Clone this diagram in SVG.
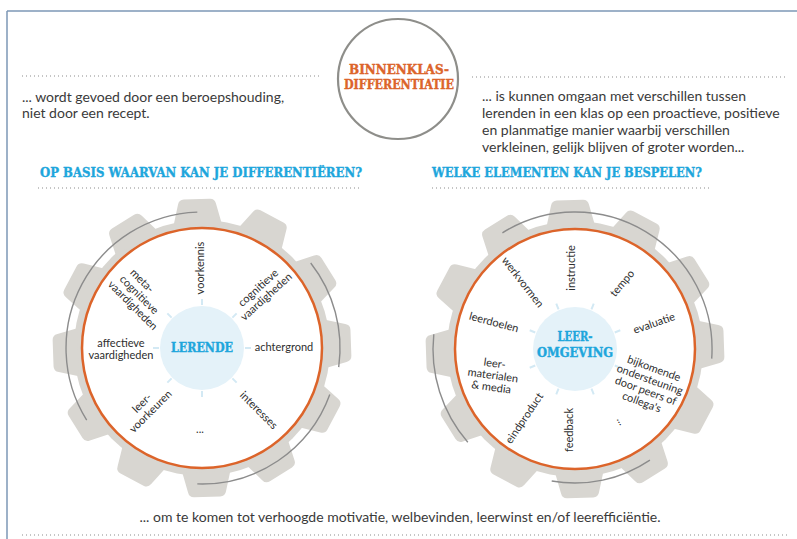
<svg xmlns="http://www.w3.org/2000/svg" xmlns:xlink="http://www.w3.org/1999/xlink" width="797" height="539" viewBox="0 0 797 539">
<style>
.frame{stroke:#7d97b6;stroke-width:1.5;fill:none}
.dot{stroke:#b3b3b3;stroke-width:1.4;stroke-dasharray:1 3;fill:none}
.body{font-family:Lato,"Open Sans",sans-serif;font-size:14px;fill:#3a3a3a}
.slab{font-family:"DejaVu Serif",serif;font-weight:bold;stroke-width:0.4px}
.head{font-size:13px;fill:#1ea6dc;stroke:#1ea6dc}
.title{font-size:12px;fill:#dc642a;stroke:#dc642a}
.ctr{font-size:12px;fill:#1ea6dc;stroke:#1ea6dc;text-anchor:middle}
.lb{font-family:Lato,"Open Sans",sans-serif;font-size:11px;fill:#2e2e2e;text-anchor:middle}
.gearfill{fill:#d8d6d1}
.ring{fill:#fff;stroke:#dc642a;stroke-width:2.5}
.hub{fill:#e4f2f9}
.tick{stroke:#d3e9f4;stroke-width:2}
.arc{fill:none;stroke:#8c8c8c;stroke-width:1.4}
</style>
<defs>
<path id="tooth" d="M-24,-124 L-19,-144 Q-18,-149 -13,-149 L13,-149 Q18,-149 19,-144 L24,-124 Z"/>
<g id="gear" class="gearfill">
<circle r="128"/>
<use xlink:href="#tooth" transform="rotate(-2)"/>
<use xlink:href="#tooth" transform="rotate(28)"/>
<use xlink:href="#tooth" transform="rotate(58)"/>
<use xlink:href="#tooth" transform="rotate(88)"/>
<use xlink:href="#tooth" transform="rotate(118)"/>
<use xlink:href="#tooth" transform="rotate(148)"/>
<use xlink:href="#tooth" transform="rotate(178)"/>
<use xlink:href="#tooth" transform="rotate(208)"/>
<use xlink:href="#tooth" transform="rotate(238)"/>
<use xlink:href="#tooth" transform="rotate(268)"/>
<use xlink:href="#tooth" transform="rotate(298)"/>
<use xlink:href="#tooth" transform="rotate(328)"/>
</g>
<g id="ticks8" class="tick">
<line x1="0" y1="-43" x2="0" y2="-49"/>
<line x1="0" y1="-43" x2="0" y2="-49" transform="rotate(45)"/>
<line x1="0" y1="-43" x2="0" y2="-49" transform="rotate(90)"/>
<line x1="0" y1="-43" x2="0" y2="-49" transform="rotate(135)"/>
<line x1="0" y1="-43" x2="0" y2="-49" transform="rotate(180)"/>
<line x1="0" y1="-43" x2="0" y2="-49" transform="rotate(225)"/>
<line x1="0" y1="-43" x2="0" y2="-49" transform="rotate(270)"/>
<line x1="0" y1="-43" x2="0" y2="-49" transform="rotate(315)"/>
</g>
</defs>

<g id="frame">
<line class="frame" x1="7" y1="11" x2="797" y2="11"/>
<line class="frame" x1="7" y1="11" x2="7" y2="539"/>
</g>

<g id="title">
<circle cx="398" cy="79" r="60" fill="#fff" stroke="#8e8e8a" stroke-width="2.2"/>
<text class="slab title" x="399" y="74" text-anchor="middle" textLength="100" lengthAdjust="spacingAndGlyphs">BINNENKLAS-</text>
<text class="slab title" x="399" y="89" text-anchor="middle" textLength="110" lengthAdjust="spacingAndGlyphs">DIFFERENTIATIE</text>
</g>

<g id="intro-left">
<line class="dot" x1="22" y1="76" x2="322" y2="76"/>
<text class="body" x="22" y="102">... wordt gevoed door een beroepshouding,</text>
<text class="body" x="22" y="118">niet door een recept.</text>
</g>

<g id="intro-right">
<line class="dot" x1="472" y1="77" x2="787" y2="77"/>
<text class="body" x="482" y="101">... is kunnen omgaan met verschillen tussen</text>
<text class="body" x="482" y="118">lerenden in een klas op een proactieve, positieve</text>
<text class="body" x="482" y="135">en planmatige manier waarbij verschillen</text>
<text class="body" x="482" y="152">verkleinen, gelijk blijven of groter worden...</text>
</g>

<g id="heading-left">
<text class="slab head" x="40" y="177" textLength="322" lengthAdjust="spacingAndGlyphs">OP BASIS WAARVAN KAN JE DIFFERENTIËREN?</text>
<line class="dot" x1="38" y1="188" x2="360" y2="188"/>
</g>

<g id="heading-right">
<text class="slab head" x="432" y="177" textLength="270" lengthAdjust="spacingAndGlyphs">WELKE ELEMENTEN KAN JE BESPELEN?</text>
<line class="dot" x1="432" y1="188" x2="710" y2="188"/>
</g>

<g id="gear-lerende">
<use xlink:href="#gear" transform="translate(202,348)"/>
<circle class="ring" cx="202" cy="348" r="120"/>
<use xlink:href="#ticks8" transform="translate(202,348)"/>
<circle class="hub" cx="202" cy="348" r="42"/>
<text class="slab ctr" x="202" y="352" textLength="62" lengthAdjust="spacingAndGlyphs">LERENDE</text>
<text class="lb" transform="translate(200,268) rotate(-90)" y="4">voorkennis</text>
<text class="lb" transform="translate(262,292) rotate(-42)"><tspan x="0" y="-2">cognitieve</tspan><tspan x="0" y="10">vaardigheden</tspan></text>
<text class="lb" x="284" y="351">achtergrond</text>
<text class="lb" transform="translate(259,410) rotate(45)" y="4">interesses</text>
<text class="lb" x="200" y="433">...</text>
<text class="lb" transform="translate(146,407) rotate(-45)"><tspan x="0" y="-2">leer-</tspan><tspan x="0" y="10">voorkeuren</tspan></text>
<text class="lb"><tspan x="121" y="347">affectieve</tspan><tspan x="121" y="359">vaardigheden</tspan></text>
<text class="lb" transform="translate(138,296) rotate(45)"><tspan x="-8" y="-10">meta-</tspan><tspan x="0" y="2">cognitieve</tspan><tspan x="3" y="14">vaardigheden</tspan></text>
</g>

<g id="gear-leeromgeving">
<use xlink:href="#gear" transform="translate(575,349)"/>
<circle class="ring" cx="575" cy="349" r="120"/>
<use xlink:href="#ticks8" transform="translate(575,349) rotate(22.5)"/>
<circle class="hub" cx="575" cy="349" r="42"/>
<text class="slab ctr" x="575" y="341" textLength="35" lengthAdjust="spacingAndGlyphs">LEER-</text>
<text class="slab ctr" x="575" y="357" textLength="76" lengthAdjust="spacingAndGlyphs">OMGEVING</text>
<text class="lb" transform="translate(571,268) rotate(-90)" y="4">instructie</text>
<text class="lb" transform="translate(622,283) rotate(-50)" y="4">tempo</text>
<text class="lb" transform="translate(654,323) rotate(-19)" y="4">evaluatie</text>
<text class="lb" transform="translate(648,385) rotate(20)"><tspan x="0" y="-14">bijkomende</tspan><tspan x="0" y="-2">ondersteuning</tspan><tspan x="0" y="10">door peers of</tspan><tspan x="0" y="22">collega's</tspan></text>
<text class="lb" transform="translate(621,421) rotate(60)" y="3">...</text>
<text class="lb" transform="translate(569,430) rotate(-90)" y="4">feedback</text>
<text class="lb" transform="translate(524,418) rotate(-56)" y="4">eindproduct</text>
<text class="lb" transform="translate(493,375) rotate(8)"><tspan x="0" y="-8">leer-</tspan><tspan x="0" y="4">materialen</tspan><tspan x="0" y="16">&amp; media</tspan></text>
<text class="lb" transform="translate(494,322) rotate(15)" y="4">leerdoelen</text>
<text class="lb" transform="translate(523,282) rotate(52)" y="4">werkvormen</text>
</g>

<g id="connectors">
<path class="arc" d="M197.3,212.1 A136,136 0 0 0 86.7,420.1"/>
<path class="arc" d="M310.7,263 A138,138 0 0 1 338.7,367.2"/>
<path class="arc" d="M329.8,394.5 A136,136 0 0 1 197.3,483.9"/>
<path class="arc" d="M502.4,232.8 A137,137 0 0 1 711.7,358.6"/>
<path class="arc" d="M467.8,442.2 A142,142 0 0 1 433.8,334.2"/>
<path class="arc" d="M649.9,460.1 A134,134 0 0 1 551.7,481"/>
</g>

<g id="outro">
<text class="body" x="400" y="522" text-anchor="middle">... om te komen tot verhoogde motivatie, welbevinden, leerwinst en/of leerefficiëntie.</text>
<line class="dot" x1="22" y1="535" x2="790" y2="535"/>
</g>
</svg>
